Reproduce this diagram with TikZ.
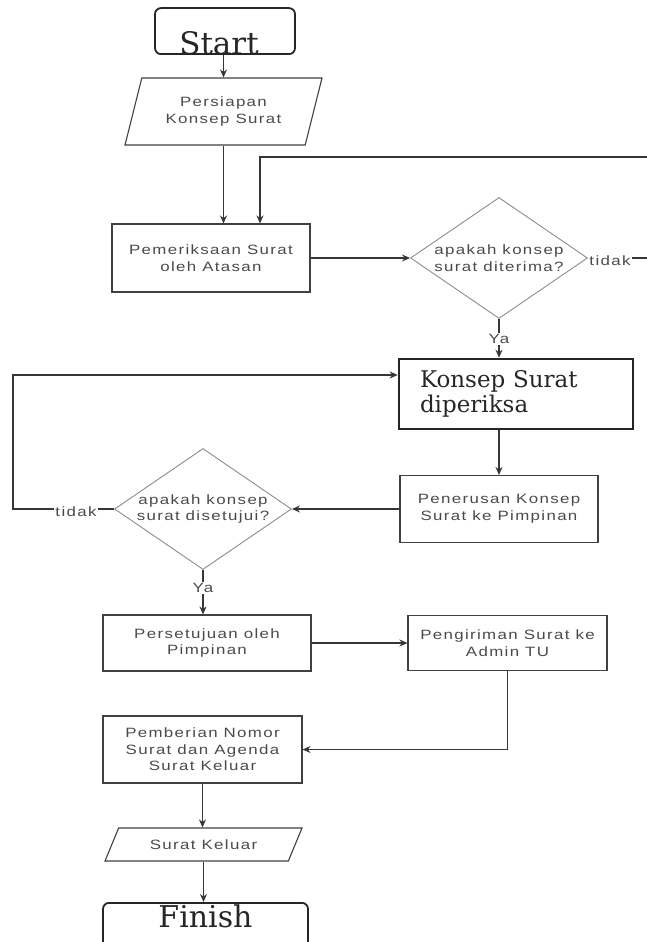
\documentclass[tikz,border=0pt]{standalone}
\usepackage{fontspec}
\newfontfamily\lblfont[LetterSpace=10,FakeStretch=1.25]{Liberation Sans}
\newfontfamily\serfont{DejaVu Serif}
\usetikzlibrary{shapes.geometric,arrows.meta,calc}
\definecolor{linec}{HTML}{363636}
\definecolor{boxc}{HTML}{404040}
\definecolor{diac}{HTML}{8C8C8C}
\definecolor{txtc}{HTML}{4A4A4A}
\definecolor{serc}{HTML}{262626}
\begin{document}
\begin{tikzpicture}[x=1pt,y=-1pt,
  lbl/.style={font=\lblfont\fontsize{13.5}{16.5}\selectfont, text=txtc},
  proc/.style={lbl, rectangle, draw=boxc, line width=1.1pt, inner sep=0pt, align=center},
  dec/.style={lbl, diamond, draw=diac, line width=0.9pt, inner sep=0pt, aspect=1.46, align=center, minimum width=177pt, minimum height=121pt},
  io/.style={lbl, trapezium, trapezium stretches body, draw=boxc, line width=1.1pt, inner sep=0pt, align=center},
  term/.style={rectangle, rounded corners=6pt, draw=serc, line width=1.8pt, inner ysep=0pt, text=serc, minimum width=140pt},
  arr/.style={draw=linec, line width=1.1pt, -{Stealth[length=8pt,width=7pt]}},
  tag/.style={lbl, fill=white, inner sep=1pt}
]
\useasboundingbox (0,0) rectangle (647,942);
\clip (0,0) rectangle (647,942);

% nodes
\node[term, font=\serfont\fontsize{31}{31}\selectfont, text height=46pt, text depth=0pt, anchor=south] (start) at (225,55) {Start\kern12pt};
\node[io, trapezium left angle=60, trapezium right angle=120, minimum width=197pt, minimum height=67pt] (prep) at (223.5,111.5) {Persiapan\\Konsep Surat};
\node[proc, minimum width=198pt, minimum height=68pt] (check) at (211,258) {Pemeriksaan Surat\\oleh Atasan};
\node[dec] (d1) at (499,258) {apakah konsep\\surat diterima?};
\node[proc, line width=2.6pt, draw=serc, align=left, text width=192pt, inner xsep=21pt, minimum height=70pt, font=\serfont\fontsize{23}{25}\selectfont, text=serc] (konsep) at (516,394) {Konsep Surat\\diperiksa};
\node[proc, minimum width=198pt, minimum height=67pt] (pener) at (499,509) {Penerusan Konsep\\Surat ke Pimpinan};
\node[dec] (d2) at (203,509) {apakah konsep\\surat disetujui?};
\node[proc, minimum width=208pt, minimum height=56pt] (setuju) at (207,643) {Persetujuan oleh\\Pimpinan};
\node[proc, minimum width=199pt, minimum height=55pt] (kirim) at (507.5,643) {Pengiriman Surat ke\\Admin TU};
\node[proc, minimum width=199pt, minimum height=67pt] (nomor) at (202.5,749.5) {Pemberian Nomor\\Surat dan Agenda\\Surat Keluar};
\node[io, trapezium left angle=36, trapezium right angle=144, minimum width=197pt, minimum height=33pt] (keluar) at (203.5,844.5) {Surat Keluar};
\node[term, font=\serfont\fontsize{30}{30}\selectfont, text height=25pt, text depth=40pt, anchor=north, minimum width=205pt] (finish) at (205.5,902) {Finish};

% connectors
\draw[arr] (prep.center |- start.south) -- (prep.center |- prep.north);
\draw[arr] (prep.center |- prep.south) -- (prep.center |- check.north);
\draw[arr] (check.east) -- (d1.west);
\draw[arr] (d1.east) -- (670,258) -- (670,157) -- (260,157) -- ($(check.north)+(49,0)$);
\draw[arr] (d1.south) -- (d1.south |- konsep.north);
\draw[arr] (pener.north |- konsep.south) -- (pener.north);
\draw[arr] (pener.west) -- (d2.east);
\draw[arr] (d2.west) -- (13,509) -- (13,375) -- ([yshift=19pt]konsep.west);
\draw[arr] (d2.south) -- (d2.south |- setuju.north);
\draw[arr] (setuju.east) -- (kirim.west);
\draw[arr] (kirim.south) |- (nomor.east);
\draw[arr] (nomor.south) -- (nomor.south |- keluar.north);
\draw[arr] (keluar.center |- keluar.south) -- (keluar.center |- finish.north);

% connector labels
\node[tag] (ya1) at (499,339) {Ya};
\node[tag] (t1) at (610,261) {tidak};
\node[tag] (t2) at (76,512) {tidak};
\node[tag] (ya2) at (203,588) {Ya};
\end{tikzpicture}
\end{document}
